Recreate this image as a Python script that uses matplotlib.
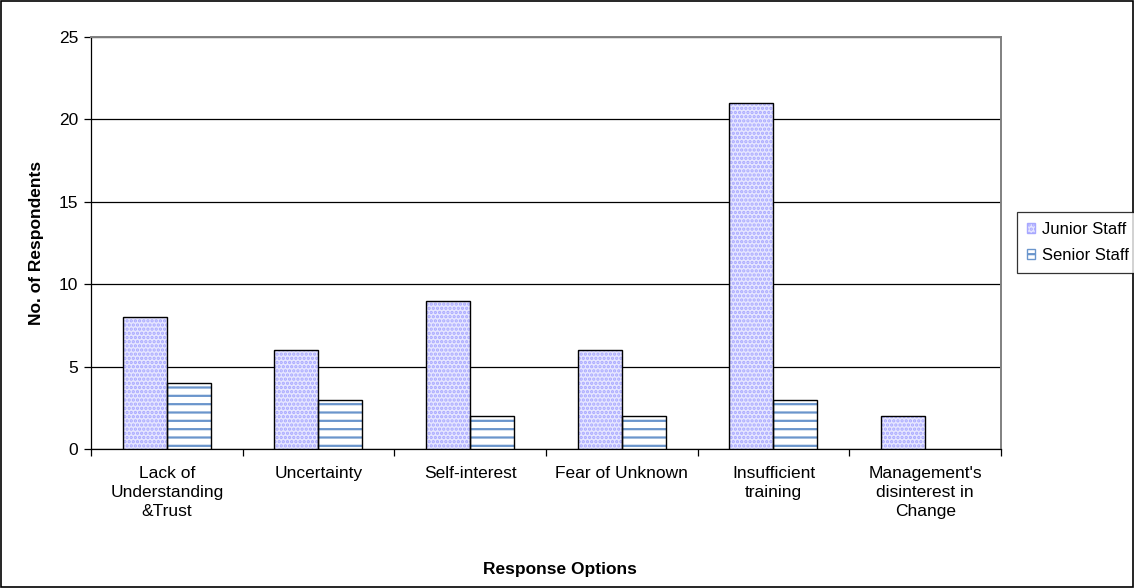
import matplotlib
matplotlib.use("Agg")
import matplotlib.pyplot as plt
from matplotlib.patches import Rectangle, Patch
import numpy as np

categories = ["Lack of\nUnderstanding\n&Trust", "Uncertainty", "Self-interest",
              "Fear of Unknown", "Insufficient\ntraining",
              "Management's\ndisinterest in\nChange"]
junior = [8, 6, 9, 6, 21, 2]
senior = [4, 3, 2, 2, 3, 0]
series_names = ["Junior Staff", "Senior Staff"]
yticks = [0, 5, 10, 15, 20, 25]

plt.rcParams["font.family"] = ["Liberation Sans", "DejaVu Sans"]
plt.rcParams["hatch.linewidth"] = 1.6

fig = plt.figure(figsize=(11.34, 5.88), dpi=100)
ax = fig.add_axes([0.0802, 0.2364, 0.8025, 0.7007])

x = np.arange(len(categories))
w = 0.29
fs = 12.5

jr_face, jr_hatch = "#E6E6FF", "#A8A8FF"
sr_face, sr_hatch = "#FFFFFF", "#6A95CC"

# Junior bars: dotted lavender fill, then a black outline on top
ax.bar(x - w / 2, junior, w, color=jr_face, edgecolor=jr_hatch, hatch="....",
       linewidth=0, zorder=3)
ax.bar(x - w / 2, junior, w, fill=False, edgecolor="black", linewidth=1.0, zorder=4)
# Senior bars: white with blue horizontal stripes
ax.bar(x + w / 2, senior, w, color=sr_face, edgecolor=sr_hatch, hatch="--",
       linewidth=0, zorder=3)
for xi, v in zip(x, senior):
    if v > 0:
        ax.bar(xi + w / 2, v, w, fill=False, edgecolor="black", linewidth=1.0, zorder=4)

ax.set_xlim(-0.5, len(categories) - 0.5)
ax.set_ylim(0, 25)
ax.set_yticks(yticks)
ax.yaxis.grid(True, color="black", linewidth=0.9, zorder=0)
ax.set_axisbelow(True)

ax.set_xticks(x)
ax.set_xticklabels(categories, fontsize=fs, linespacing=1.34)
ax.tick_params(axis="x", length=0, pad=12)
ax.set_xticks(np.arange(len(categories) + 1) - 0.5, minor=True)
ax.tick_params(axis="x", which="minor", length=5, width=0.9, color="black", direction="out")
ax.tick_params(axis="y", labelsize=fs, length=5, width=0.9, direction="out", pad=4)

for side in ("top", "right"):
    ax.spines[side].set_color("#808080")
    ax.spines[side].set_linewidth(1.4)
for side in ("left", "bottom"):
    ax.spines[side].set_color("black")
    ax.spines[side].set_linewidth(0.9)

fig.text(0.032, 0.5860, "No. of Respondents", rotation=90, ha="center", va="center",
         fontsize=fs, fontweight="bold")
fig.text(0.494, 0.032, "Response Options", ha="center", va="center",
         fontsize=fs, fontweight="bold")

handles = [Patch(facecolor=jr_face, edgecolor=jr_hatch, hatch="...."),
           Patch(facecolor=sr_face, edgecolor=sr_hatch, hatch="--")]
leg = fig.legend(handles, series_names, loc="upper left",
                 bbox_to_anchor=(1017 / 1134, 1 - 212 / 588), fontsize=12,
                 frameon=True, fancybox=False, handlelength=0.5, handleheight=0.5,
                 handletextpad=0.4, borderpad=0.6, labelspacing=0.65,
                 borderaxespad=0)
leg.get_frame().set_edgecolor("black")
leg.get_frame().set_linewidth(0.9)

fig.patches.append(Rectangle((0.001, 0.002), 0.998, 0.996, transform=fig.transFigure,
                             fill=False, edgecolor="black", linewidth=1.2))

fig.savefig("out.png", dpi=100)
